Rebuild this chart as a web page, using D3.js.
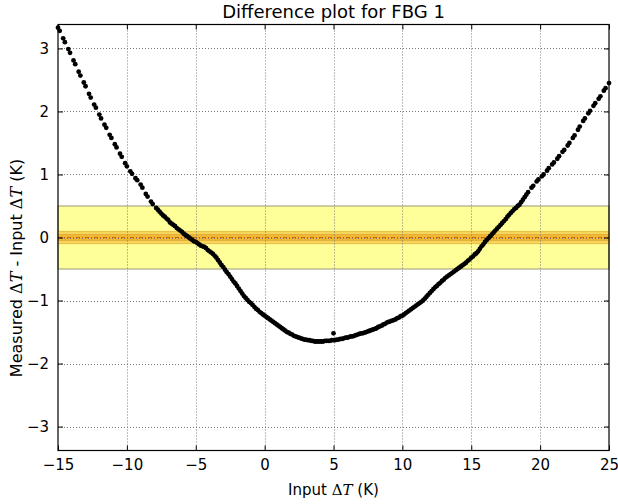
<!DOCTYPE html>
<html>
<head>
<meta charset="utf-8">
<script src="https://cdn.jsdelivr.net/npm/d3@7"></script>
<style>
  body { margin: 0; background: #fff; }
  text { font-family: "DejaVu Sans", sans-serif; fill: #000; }
</style>
</head>
<body>
<svg id="chart" width="618" height="504"></svg>
<script>
// Input temperature step (K), one entry per recorded sample
const inputDT = [
  -15, -14.875, -14.625, -14.5, -14.25, -14.125, -13.875, -13.75,
  -13.5, -13.375, -13.125, -13, -12.75, -12.625, -12.375, -12.25,
  -12, -11.875, -11.625, -11.5, -11.25, -11.125, -10.875, -10.75,
  -10.5, -10.375, -10.125, -10, -9.75, -9.625, -9.375, -9.25,
  -9, -8.875, -8.625, -8.5, -8.25, -8.125, -7.875, -7.75,
  -7.625, -7.5, -7.375, -7.25, -7.125, -7, -6.875, -6.75,
  -6.625, -6.5, -6.375, -6.25, -6.125, -6, -5.875, -5.75,
  -5.625, -5.5, -5.375, -5.25, -5.125, -5, -4.875, -4.75,
  -4.625, -4.5, -4.375, -4.25, -4.125, -4, -3.875, -3.75,
  -3.625, -3.5, -3.375, -3.25, -3.125, -3, -2.875, -2.75,
  -2.625, -2.5, -2.375, -2.25, -2.125, -2, -1.875, -1.75,
  -1.625, -1.5, -1.375, -1.25, -1.125, -1, -0.875, -0.75,
  -0.625, -0.5, -0.375, -0.25, -0.125, 0, 0.125, 0.25,
  0.375, 0.5, 0.625, 0.75, 0.875, 1, 1.125, 1.25,
  1.375, 1.5, 1.625, 1.75, 1.875, 2, 2.125, 2.25,
  2.375, 2.5, 2.625, 2.75, 2.875, 3, 3.125, 3.25,
  3.375, 3.5, 3.625, 3.75, 3.875, 4, 4.125, 4.25,
  4.375, 4.5, 4.625, 4.75, 4.875, 5, 5.125, 5.25,
  5.375, 5.5, 5.625, 5.75, 5.875, 6, 6.125, 6.25,
  6.375, 6.5, 6.625, 6.75, 6.875, 7, 7.125, 7.25,
  7.375, 7.5, 7.625, 7.75, 7.875, 8, 8.125, 8.25,
  8.375, 8.5, 8.625, 8.75, 8.875, 9, 9.125, 9.25,
  9.375, 9.5, 9.625, 9.75, 9.875, 10, 10.125, 10.25,
  10.375, 10.5, 10.625, 10.75, 10.875, 11, 11.125, 11.25,
  11.375, 11.5, 11.625, 11.75, 11.875, 12, 12.125, 12.25,
  12.375, 12.5, 12.625, 12.75, 12.875, 13, 13.125, 13.25,
  13.375, 13.5, 13.625, 13.75, 13.875, 14, 14.125, 14.25,
  14.375, 14.5, 14.625, 14.75, 14.875, 15, 15.125, 15.25,
  15.375, 15.5, 15.625, 15.75, 15.875, 16, 16.125, 16.25,
  16.375, 16.5, 16.625, 16.75, 16.875, 17, 17.125, 17.25,
  17.375, 17.5, 17.625, 17.75, 17.875, 18, 18.125, 18.25,
  18.375, 18.5, 18.625, 18.75, 18.875,
  19, 19.125, 19.375, 19.5, 19.75, 19.875, 20.125, 20.25,
  20.5, 20.625, 20.875, 21, 21.25, 21.375, 21.625, 21.75,
  22, 22.125, 22.375, 22.5, 22.75, 22.875, 23.125, 23.25,
  23.5, 23.625, 23.875, 24, 24.25, 24.375, 24.625, 24.75,
  25, 5
];

// Measured minus input temperature difference (K), same order
const diffDT = [
  3.33, 3.28, 3.16, 3.10, 2.99, 2.93, 2.81, 2.75,
  2.63, 2.57, 2.46, 2.40, 2.28, 2.22, 2.11, 2.06,
  1.95, 1.89, 1.79, 1.74, 1.63, 1.58, 1.48, 1.43,
  1.33, 1.28, 1.18, 1.13, 1.05, 1.01, 0.94, 0.91,
  0.84, 0.79, 0.69, 0.65, 0.57, 0.53, 0.47, 0.44,
  0.41, 0.38, 0.35, 0.33, 0.30, 0.28, 0.24, 0.22,
  0.20, 0.18, 0.15, 0.13, 0.11, 0.09, 0.06, 0.04,
  0.02, 0.00, -0.02, -0.04, -0.06, -0.07, -0.09, -0.11,
  -0.13, -0.14, -0.15, -0.17, -0.20, -0.22, -0.24, -0.26,
  -0.29, -0.32, -0.36, -0.40, -0.44, -0.47, -0.51, -0.55,
  -0.58, -0.62, -0.66, -0.70, -0.73, -0.77, -0.81, -0.85,
  -0.89, -0.93, -0.96, -0.99, -1.02, -1.04, -1.07, -1.10,
  -1.13, -1.15, -1.18, -1.20, -1.22, -1.24, -1.26, -1.28,
  -1.30, -1.32, -1.34, -1.36, -1.38, -1.40, -1.42, -1.44,
  -1.46, -1.48, -1.50, -1.51, -1.53, -1.54, -1.56, -1.57,
  -1.58, -1.59, -1.60, -1.61, -1.62, -1.62, -1.63, -1.63,
  -1.64, -1.64, -1.65, -1.65, -1.65, -1.65, -1.65, -1.65,
  -1.64, -1.64, -1.64, -1.64, -1.63, -1.63, -1.63, -1.62,
  -1.62, -1.61, -1.61, -1.60, -1.59, -1.59, -1.58, -1.57,
  -1.57, -1.56, -1.55, -1.54, -1.53, -1.52, -1.52, -1.51,
  -1.50, -1.49, -1.48, -1.47, -1.46, -1.45, -1.44, -1.42,
  -1.41, -1.40, -1.38, -1.37, -1.35, -1.34, -1.33, -1.32,
  -1.31, -1.30, -1.28, -1.27, -1.25, -1.24, -1.22, -1.20,
  -1.18, -1.16, -1.14, -1.12, -1.10, -1.08, -1.06, -1.04,
  -1.02, -1.00, -0.97, -0.94, -0.91, -0.88, -0.85, -0.82,
  -0.79, -0.77, -0.74, -0.72, -0.69, -0.67, -0.64, -0.62,
  -0.60, -0.58, -0.56, -0.54, -0.52, -0.50, -0.48, -0.46,
  -0.44, -0.42, -0.40, -0.37, -0.35, -0.32, -0.30, -0.27,
  -0.25, -0.22, -0.18, -0.14, -0.11, -0.07, -0.04, -0.01,
  0.02, 0.05, 0.08, 0.11, 0.14, 0.17, 0.20, 0.23,
  0.26, 0.29, 0.33, 0.36, 0.39, 0.42, 0.45, 0.47,
  0.50, 0.52, 0.56, 0.60, 0.64,
  0.68, 0.72, 0.79, 0.82, 0.89, 0.92, 0.97, 1.00,
  1.06, 1.10, 1.16, 1.19, 1.25, 1.29, 1.36, 1.39,
  1.46, 1.50, 1.58, 1.62, 1.71, 1.76, 1.85, 1.89,
  1.97, 2.01, 2.09, 2.13, 2.20, 2.24, 2.33, 2.37,
  2.45, -1.52
];

const xTicks = [-15, -10, -5, 0, 5, 10, 15, 20, 25];
const yTicks = [-3, -2, -1, 0, 1, 2, 3];

// Tolerance bands around zero (K): outer, inner, core
const bandLimits = [0.5, 0.1, 0.05];
const bandFills = ["#ffff99", "#f7d55c", "#f2b636"];
const titleText = "Difference plot for FBG 1";

const svg = d3.select("#chart");
const plot = { left: 58, top: 24.5, right: 609, bottom: 450.5 };

const x = d3.scaleLinear().domain([-15, 25]).range([plot.left, plot.right]);
const y = d3.scaleLinear().domain([-3.38, 3.38]).range([plot.bottom, plot.top]);

const fmt = d => (d < 0 ? "\u2212" + Math.abs(d) : String(d));

// tolerance bands
const bands = svg.append("g");
bandLimits.forEach((lim, i) => {
  bands.append("rect")
    .attr("x", x(-15)).attr("width", x(25) - x(-15))
    .attr("y", y(lim)).attr("height", y(-lim) - y(lim))
    .attr("fill", bandFills[i])
    .attr("stroke", i === 0 ? "#9a9a7a" : "#d8a830")
    .attr("stroke-width", i === 0 ? 1 : 0.6);
});
// zero reference line
bands.append("line")
  .attr("x1", x(-15)).attr("x2", x(25))
  .attr("y1", y(0)).attr("y2", y(0))
  .attr("stroke", "#c86a00").attr("stroke-width", 1)
  .attr("stroke-dasharray", "4,2,1,2");

// grid
const grid = svg.append("g")
  .attr("stroke", "#7a7a7a").attr("stroke-width", 1)
  .attr("stroke-dasharray", "1,2");
xTicks.slice(1, -1).forEach(t => {
  grid.append("line").attr("x1", Math.round(x(t)) + 0.5).attr("x2", Math.round(x(t)) + 0.5)
    .attr("y1", plot.top).attr("y2", plot.bottom);
});
yTicks.forEach(t => {
  grid.append("line").attr("y1", Math.round(y(t)) + 0.5).attr("y2", Math.round(y(t)) + 0.5)
    .attr("x1", plot.left).attr("x2", plot.right);
});

// data points
svg.append("g")
  .selectAll("circle")
  .data(inputDT.map((v, i) => [v, diffDT[i]]))
  .join("circle")
  .attr("cx", d => x(d[0]))
  .attr("cy", d => y(d[1]))
  .attr("r", 2.4)
  .attr("fill", "#000");

// axes with inward ticks on all four sides
const tickLen = 5;
svg.append("g").attr("transform", `translate(0,${plot.bottom})`)
  .call(d3.axisBottom(x).tickValues(xTicks).tickFormat(fmt).tickSizeInner(-tickLen).tickSizeOuter(0).tickPadding(9))
  .call(g => g.select(".domain").remove())
  .call(g => g.selectAll("text").attr("font-size", 15).attr("font-family", "DejaVu Sans"));
svg.append("g").attr("transform", `translate(0,${plot.top})`)
  .call(d3.axisTop(x).tickValues(xTicks).tickFormat("").tickSizeInner(-tickLen).tickSizeOuter(0))
  .call(g => g.select(".domain").remove());
svg.append("g").attr("transform", `translate(${plot.left},0)`)
  .call(d3.axisLeft(y).tickValues(yTicks).tickFormat(fmt).tickSizeInner(-tickLen).tickSizeOuter(0).tickPadding(9))
  .call(g => g.select(".domain").remove())
  .call(g => g.selectAll("text").attr("font-size", 15).attr("font-family", "DejaVu Sans"));
svg.append("g").attr("transform", `translate(${plot.right},0)`)
  .call(d3.axisRight(y).tickValues(yTicks).tickFormat("").tickSizeInner(-tickLen).tickSizeOuter(0))
  .call(g => g.select(".domain").remove());

// frame
svg.append("rect")
  .attr("x", plot.left).attr("y", plot.top)
  .attr("width", plot.right - plot.left).attr("height", plot.bottom - plot.top)
  .attr("fill", "none").attr("stroke", "#000").attr("stroke-width", 1.2);

// title
svg.append("text")
  .attr("x", (plot.left + plot.right) / 2).attr("y", 18)
  .attr("text-anchor", "middle").attr("font-size", 18)
  .text(titleText);

// axis labels with math-style ΔT
function deltaT(sel) {
  sel.append("tspan").attr("font-family", "DejaVu Serif").text("\u0394");
  sel.append("tspan").attr("font-family", "DejaVu Serif").attr("font-style", "italic").text("T");
}
const xl = svg.append("text")
  .attr("x", (plot.left + plot.right) / 2).attr("y", 495)
  .attr("text-anchor", "middle").attr("font-size", 15);
xl.append("tspan").text("Input ");
deltaT(xl);
xl.append("tspan").text(" (K)");

const yl = svg.append("text")
  .attr("transform", "translate(22,268) rotate(-90)")
  .attr("text-anchor", "middle").attr("font-size", 16);
yl.append("tspan").text("Measured ");
deltaT(yl);
yl.append("tspan").text(" - Input ");
deltaT(yl);
yl.append("tspan").text(" (K)");
</script>
</body>
</html>
